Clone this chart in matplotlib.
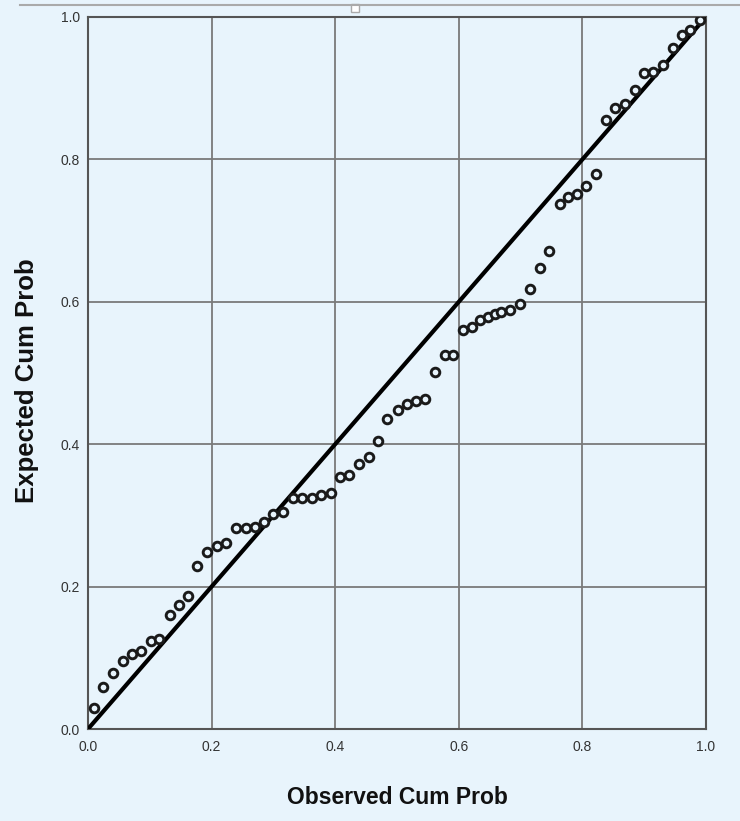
import matplotlib
matplotlib.use("Agg")
import matplotlib.pyplot as plt
from matplotlib.lines import Line2D
from matplotlib.patches import Rectangle

observed = [0.009, 0.025, 0.041, 0.056, 0.071, 0.086, 0.102, 0.115, 0.133, 0.148,
            0.162, 0.177, 0.192, 0.208, 0.223, 0.240, 0.255, 0.270, 0.285, 0.300,
            0.316, 0.332, 0.346, 0.362, 0.377, 0.393, 0.408, 0.423, 0.439, 0.454,
            0.470, 0.484, 0.501, 0.516, 0.531, 0.545, 0.562, 0.578, 0.591, 0.607,
            0.621, 0.634, 0.648, 0.659, 0.669, 0.683, 0.699, 0.715, 0.731, 0.746,
            0.763, 0.777, 0.791, 0.806, 0.822, 0.838, 0.853, 0.869, 0.885, 0.900,
            0.915, 0.930, 0.946, 0.961, 0.974, 0.990]
expected = [0.030, 0.059, 0.078, 0.095, 0.105, 0.109, 0.124, 0.126, 0.160, 0.174,
            0.187, 0.229, 0.249, 0.257, 0.261, 0.282, 0.283, 0.284, 0.291, 0.302,
            0.305, 0.324, 0.325, 0.325, 0.328, 0.332, 0.354, 0.357, 0.372, 0.382,
            0.404, 0.435, 0.448, 0.457, 0.461, 0.464, 0.502, 0.525, 0.525, 0.560,
            0.564, 0.574, 0.579, 0.583, 0.586, 0.588, 0.597, 0.618, 0.647, 0.672,
            0.737, 0.747, 0.752, 0.763, 0.780, 0.856, 0.872, 0.878, 0.897, 0.921,
            0.923, 0.933, 0.956, 0.975, 0.982, 0.996]
ref_line = [0.0, 1.0]
ticks = [0.0, 0.2, 0.4, 0.6, 0.8, 1.0]
tick_labels = ["0.0", "0.2", "0.4", "0.6", "0.8", "1.0"]

bg = "#E8F4FC"
plt.rcParams['font.family'] = ['Liberation Sans', 'DejaVu Sans']

fig = plt.figure(figsize=(7.4, 8.21), dpi=100, facecolor=bg)
ax = fig.add_axes([88/740, 1 - 729/821, (706-88)/740, (729-17)/821])
ax.set_facecolor(bg)

ax.set_xlim(0, 1)
ax.set_ylim(0, 1)
ax.set_xticks(ticks)
ax.set_yticks(ticks)
ax.set_xticklabels(tick_labels)
ax.set_yticklabels(tick_labels)
ax.tick_params(length=0, labelsize=10, labelcolor="#333333")
ax.tick_params(axis='x', pad=8)
ax.tick_params(axis='y', pad=6)
ax.grid(True, color="#7a7a7a", linewidth=1.3)
ax.set_axisbelow(True)
for s in ax.spines.values():
    s.set_color("#555555")
    s.set_linewidth(1.5)

ax.plot(ref_line, ref_line, color="black", linewidth=3, zorder=3, solid_capstyle='butt')
ax.plot(observed, expected, linestyle='none', marker='o', markersize=6.2,
        markerfacecolor=bg, markeredgecolor="#1a1a1a", markeredgewidth=2.1, zorder=4)

fig.text(397/740, 1 - 797/821, "Observed Cum Prob", fontsize=16.5, fontweight='bold',
         ha='center', va='center', color="#111111")
fig.text(27/740, 1 - 381/821, "Expected Cum Prob", fontsize=18.5, fontweight='bold',
         ha='center', va='center', rotation=90, color="#111111")

fig.add_artist(Line2D([20/740, 1.0], [1 - 5/821, 1 - 5/821], color="#aaaaaa", linewidth=1.5,
                      transform=fig.transFigure))
fig.add_artist(Rectangle((351/740, 1 - 12/821), 8/740, 8/821, transform=fig.transFigure,
                         facecolor="white", edgecolor="#aaaaaa", linewidth=1))

fig.savefig("out.png", dpi=100, facecolor=bg)
